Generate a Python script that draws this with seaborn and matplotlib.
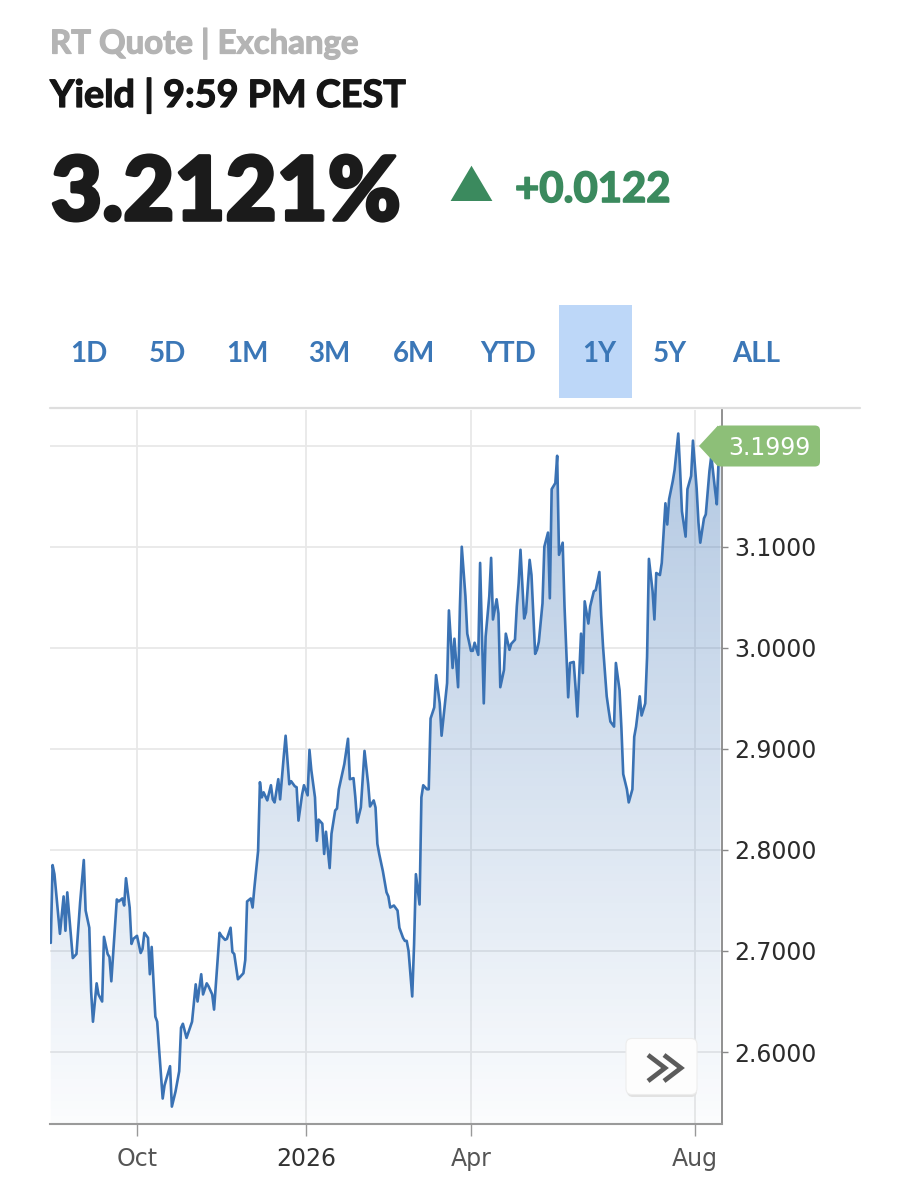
import numpy as np
import pandas as pd
import matplotlib
matplotlib.use("Agg")
import matplotlib.pyplot as plt
import matplotlib.dates as mdates
import matplotlib.patheffects as pe
import seaborn as sns
from matplotlib.colors import LinearSegmentedColormap
from matplotlib.patches import Rectangle, FancyBboxPatch, Polygon
from matplotlib.lines import Line2D

# ---------------- data ----------------
dates = [
    "2025-08-15", "2025-08-16", "2025-08-17", "2025-08-20", "2025-08-22", "2025-08-23", "2025-08-24",
    "2025-08-27", "2025-08-29", "2025-08-31", "2025-09-02", "2025-09-03", "2025-09-05", "2025-09-06",
    "2025-09-07", "2025-09-09", "2025-09-10", "2025-09-12", "2025-09-13", "2025-09-15", "2025-09-16",
    "2025-09-17", "2025-09-20", "2025-09-21", "2025-09-23", "2025-09-24", "2025-09-25", "2025-09-27",
    "2025-09-28", "2025-09-29", "2025-10-01", "2025-10-03", "2025-10-04", "2025-10-05", "2025-10-07",
    "2025-10-08", "2025-10-09", "2025-10-11", "2025-10-12", "2025-10-13", "2025-10-15", "2025-10-16",
    "2025-10-19", "2025-10-20", "2025-10-22", "2025-10-24", "2025-10-25", "2025-10-26", "2025-10-28",
    "2025-10-31", "2025-11-02", "2025-11-03", "2025-11-05", "2025-11-06", "2025-11-08", "2025-11-09",
    "2025-11-11", "2025-11-12", "2025-11-15", "2025-11-16", "2025-11-18", "2025-11-19", "2025-11-21",
    "2025-11-22", "2025-11-23", "2025-11-25", "2025-11-26", "2025-11-28", "2025-11-29", "2025-11-30",
    "2025-12-02", "2025-12-03", "2025-12-04", "2025-12-06", "2025-12-07",
    "2025-12-08", "2025-12-09", "2025-12-11", "2025-12-13", "2025-12-14", "2025-12-15", "2025-12-17",
    "2025-12-18", "2025-12-20", "2025-12-21", "2025-12-23", "2025-12-24", "2025-12-26", "2025-12-27",
    "2025-12-28", "2025-12-30", "2025-12-31", "2026-01-02", "2026-01-03", "2026-01-04", "2026-01-06",
    "2026-01-07", "2026-01-08", "2026-01-10", "2026-01-11", "2026-01-12", "2026-01-14", "2026-01-15",
    "2026-01-17", "2026-01-18", "2026-01-19", "2026-01-21", "2026-01-22", "2026-01-24", "2026-01-25",
    "2026-01-27", "2026-01-28", "2026-01-29", "2026-01-31", "2026-02-02", "2026-02-04", "2026-02-05",
    "2026-02-07", "2026-02-08", "2026-02-09", "2026-02-10", "2026-02-12", "2026-02-14", "2026-02-15",
    "2026-02-16", "2026-02-18", "2026-02-20", "2026-02-21", "2026-02-23", "2026-02-24", "2026-02-25",
    "2026-02-26", "2026-02-28", "2026-03-01", "2026-03-02", "2026-03-04", "2026-03-05", "2026-03-06",
    "2026-03-08", "2026-03-09",
    "2026-03-10", "2026-03-12", "2026-03-13", "2026-03-15", "2026-03-16", "2026-03-18", "2026-03-19",
    "2026-03-20", "2026-03-22", "2026-03-23", "2026-03-25", "2026-03-26", "2026-03-27", "2026-03-29",
    "2026-03-30", "2026-04-01", "2026-04-02", "2026-04-03", "2026-04-05", "2026-04-06", "2026-04-08",
    "2026-04-09", "2026-04-11", "2026-04-12", "2026-04-13", "2026-04-15", "2026-04-16", "2026-04-17",
    "2026-04-19", "2026-04-20", "2026-04-22", "2026-04-23", "2026-04-25", "2026-04-26", "2026-04-27",
    "2026-04-28", "2026-04-30", "2026-05-01", "2026-05-03", "2026-05-04", "2026-05-06", "2026-05-07",
    "2026-05-08", "2026-05-10", "2026-05-11", "2026-05-13", "2026-05-14", "2026-05-15", "2026-05-17",
    "2026-05-18", "2026-05-19", "2026-05-21", "2026-05-22", "2026-05-24", "2026-05-25", "2026-05-27",
    "2026-05-28", "2026-05-29", "2026-05-31", "2026-06-01", "2026-06-02", "2026-06-04", "2026-06-05",
    "2026-06-07", "2026-06-08", "2026-06-10", "2026-06-11", "2026-06-12", "2026-06-14", "2026-06-15",
    "2026-06-16", "2026-06-18", "2026-06-19", "2026-06-21", "2026-06-22", "2026-06-23", "2026-06-25",
    "2026-06-26", "2026-06-28", "2026-06-29", "2026-06-30", "2026-07-02", "2026-07-03", "2026-07-05",
    "2026-07-06", "2026-07-07", "2026-07-09", "2026-07-10", "2026-07-11", "2026-07-13", "2026-07-14",
    "2026-07-16", "2026-07-17", "2026-07-18", "2026-07-20", "2026-07-21", "2026-07-23", "2026-07-24",
    "2026-07-25", "2026-07-27", "2026-07-28", "2026-07-30", "2026-07-31", "2026-08-02", "2026-08-03",
    "2026-08-04", "2026-08-06", "2026-08-07", "2026-08-09", "2026-08-10", "2026-08-12", "2026-08-13",
    "2026-08-14", "2026-08-15",
]
yields = [
    2.708, 2.785, 2.776, 2.717, 2.754, 2.720, 2.758,
    2.693, 2.697, 2.748, 2.790, 2.740, 2.723, 2.660,
    2.630, 2.668, 2.657, 2.650, 2.714, 2.697, 2.694,
    2.670, 2.751, 2.749, 2.752, 2.745, 2.772, 2.743,
    2.707, 2.712, 2.715, 2.698, 2.702, 2.718, 2.713,
    2.677, 2.704, 2.635, 2.630, 2.604, 2.554, 2.567,
    2.586, 2.546, 2.561, 2.581, 2.624, 2.628, 2.614,
    2.630, 2.667, 2.650, 2.677, 2.657, 2.668, 2.665,
    2.657, 2.642, 2.718, 2.715, 2.711, 2.712, 2.723,
    2.699, 2.697, 2.672, 2.674, 2.678, 2.691, 2.749,
    2.752, 2.743, 2.763, 2.799, 2.867,
    2.852, 2.857, 2.849, 2.864, 2.850, 2.847, 2.870,
    2.850, 2.893, 2.913, 2.865, 2.868, 2.863, 2.862,
    2.829, 2.855, 2.864, 2.854, 2.899, 2.879, 2.852,
    2.809, 2.830, 2.826, 2.796, 2.818, 2.782, 2.816,
    2.839, 2.841, 2.860, 2.877, 2.885, 2.910, 2.870,
    2.871, 2.852, 2.827, 2.842, 2.898, 2.865, 2.843,
    2.849, 2.842, 2.806, 2.796, 2.779, 2.758, 2.754,
    2.743, 2.745, 2.740, 2.723, 2.713, 2.710, 2.710,
    2.700, 2.655, 2.706, 2.776, 2.746, 2.852, 2.864,
    2.860, 2.860,
    2.930, 2.941, 2.973, 2.945, 2.913, 2.948, 2.965,
    3.037, 2.980, 3.009, 2.961, 3.041, 3.100, 3.051,
    3.014, 2.997, 2.997, 3.005, 2.993, 3.084, 2.945,
    3.011, 3.051, 3.089, 3.028, 3.048, 3.034, 2.961,
    2.978, 3.014, 2.998, 3.004, 3.008, 3.041, 3.064,
    3.097, 3.029, 3.035, 3.087, 3.072, 2.994, 2.998,
    3.006, 3.044, 3.100, 3.114, 3.049, 3.157, 3.163,
    3.190, 3.092, 3.104, 3.041, 2.951, 2.985, 2.986,
    2.961, 2.932, 3.014, 2.975, 3.046, 3.024, 3.041,
    3.056, 3.057, 3.075, 3.032, 3.001, 2.952, 2.939,
    2.927, 2.922, 2.985, 2.958, 2.921, 2.875, 2.860,
    2.847, 2.860, 2.912, 2.922, 2.952, 2.933, 2.945,
    2.991, 3.088, 3.056, 3.028, 3.074, 3.072, 3.084,
    3.143, 3.122, 3.147, 3.165, 3.176, 3.212, 3.176,
    3.135, 3.110, 3.157, 3.170, 3.205, 3.158, 3.124,
    3.104, 3.128, 3.132, 3.175, 3.190, 3.157, 3.142,
    3.186, 3.1999,
]
xtick_dates = ["2025-10-01", "2026-01-01", "2026-04-01", "2026-08-01"]
xtick_labels = ["Oct", "2026", "Apr", "Aug"]
ytick_values = [2.6, 2.7, 2.8, 2.9, 3.0, 3.1, 3.2]
last_value_label = "3.1999"
quote_text = "3.2121%"
change_text = "+0.0122"
source_text = "RT Quote | Exchange"
time_text = "Yield | 9:59 PM CEST"
range_buttons = ["1D", "5D", "1M", "3M", "6M", "YTD", "1Y", "5Y", "ALL"]
selected_range = "1Y"

# ---------------- layout / style ----------------
W, H = 912, 1200
sns.set_theme(style="white")
plt.rcParams["font.family"] = ["DejaVu Sans"]

fig = plt.figure(figsize=(W / 100, H / 100), dpi=100)
fig.patch.set_facecolor("white")


def fx(x):
    return x / W


def fy(y):
    return 1 - y / H


ax_left, ax_right, ax_top, ax_bottom = 50, 722, 410, 1124
ax = fig.add_axes([fx(ax_left), fy(ax_bottom), (ax_right - ax_left) / W, (ax_bottom - ax_top) / H])
ax.set_facecolor("white")

df = pd.DataFrame({"date": pd.to_datetime(dates), "yield": yields})

line_color = "#3a72b4"
sns.lineplot(data=df, x="date", y="yield", ax=ax, color=line_color, linewidth=1.9, zorder=3)

xlim = (pd.Timestamp("2025-08-14 14:00"), pd.Timestamp("2026-08-15 20:00"))
ylim = (2.5288, 3.2353)
x0n, x1n = mdates.date2num(xlim[0]), mdates.date2num(xlim[1])

# gradient area fill under the line
poly = ax.fill_between(df["date"], df["yield"], ylim[0], facecolor="none", edgecolor="none")
grad = np.linspace(0, 1, 256).reshape(-1, 1)
cmap = LinearSegmentedColormap.from_list(
    "fillgrad", [(0.227, 0.447, 0.706, 0.02), (0.227, 0.447, 0.706, 0.40)])
im = ax.imshow(grad, extent=[x0n, x1n, ylim[0], ylim[1]], origin="lower",
               aspect="auto", cmap=cmap, zorder=1, interpolation="bilinear")
im.set_clip_path(poly.get_paths()[0], transform=ax.transData)

ax.set_xlim(x0n, x1n)
ax.set_ylim(*ylim)
ax.set_xlabel("")
ax.set_ylabel("")

# grid
ax.set_axisbelow(True)
ax.grid(True, color="#e8e8e8", linewidth=1.3)

# y axis on the right
ax.yaxis.tick_right()
ax.set_yticks(ytick_values)
ax.set_yticklabels([f"{v:.4f}" if v < 3.15 else "" for v in ytick_values])
ax.tick_params(axis="y", which="both", right=True, left=False, direction="out",
               length=4, width=1.0, color="#888888", pad=5, labelsize=17,
               labelcolor="#2b2b2b")

# x axis
ax.set_xticks(mdates.date2num(pd.to_datetime(xtick_dates)))
ax.set_xticklabels(xtick_labels)
ax.tick_params(axis="x", which="both", bottom=True, direction="out", length=8.5,
               width=1.0, color="#999999", pad=8, labelsize=17)
for lbl in ax.get_xticklabels():
    lbl.set_color("#333333" if lbl.get_text() == "2026" else "#555555")

for side in ["left", "top"]:
    ax.spines[side].set_visible(False)
ax.spines["right"].set_color("#888888")
ax.spines["right"].set_linewidth(1.3)
ax.spines["bottom"].set_color("#9a9a9a")
ax.spines["bottom"].set_linewidth(1.5)

# top frame line
fig.add_artist(Line2D([fx(50), fx(860)], [fy(408.5), fy(408.5)], color="#dedede",
                      lw=1.6, transform=fig.transFigure))

# ---------------- header ----------------
renderer = fig.canvas.get_renderer()
head_family = ["Lato", "DejaVu Sans"]


def fit_text(x0, x1, ybase, s, color, weight, guess=20, stroke=0.0):
    t = fig.text(fx(x0), fy(ybase), s, ha="left", va="baseline", fontsize=guess,
                 color=color, fontweight=weight, family=head_family)
    w = t.get_window_extent(renderer=renderer).width
    t.set_fontsize(guess * (x1 - x0) / w)
    if stroke > 0:
        t.set_path_effects([pe.withStroke(linewidth=stroke, foreground=color)])
    return t


fit_text(50, 358, 53.5, source_text, "#b4b4b4", "bold", stroke=0.9)
fit_text(50, 406, 107, time_text, "#151515", "bold", stroke=0.9)
fit_text(51, 401, 220, quote_text, "#1b1b1b", "black", guess=50, stroke=2.6)
fit_text(515, 670, 202, change_text, "#3b8a5e", "bold", guess=30, stroke=1.2)

green = "#3b8a5e"
fig.add_artist(Polygon([(fx(450.6), fy(201)), (fx(492.4), fy(201)), (fx(471.5), fy(165.7))],
                       closed=True, facecolor=green, edgecolor="none", transform=fig.transFigure))

# range buttons
btn_centers = [88.7, 167, 247, 329.3, 414.2, 507.8, 599, 670, 756.5]
fig.add_artist(Rectangle((fx(559), fy(398)), (632 - 559) / W, (398 - 305) / H,
                         facecolor="#bdd7f8", edgecolor="none", transform=fig.transFigure, zorder=1))
for name, cx in zip(range_buttons, btn_centers):
    fig.text(fx(cx), fy(361.7), name, ha="center", va="baseline", fontsize=20,
             color="#3b77b7", fontweight="bold", family=head_family, zorder=3)

# ---------------- last value label ----------------
label_green = "#8dbf78"
fig.add_artist(Polygon([(fx(699), fy(446)), (fx(718), fy(425.5)), (fx(718), fy(466.5))],
                       closed=True, facecolor=label_green, edgecolor="none",
                       transform=fig.transFigure, zorder=5))
fig.add_artist(FancyBboxPatch((716, H - 466.5), 104, 41, boxstyle="round,pad=0,rounding_size=5",
                              facecolor=label_green, edgecolor="none",
                              transform=matplotlib.transforms.IdentityTransform(), zorder=5))
fig.text(fx(769), fy(455), last_value_label, ha="center", va="baseline", fontsize=17,
         color="white", zorder=6)

# ---------------- scroll button ----------------
fig.add_artist(FancyBboxPatch((627, H - 1097), 70, 56, boxstyle="round,pad=0,rounding_size=6",
                              facecolor="#e2e2e2", edgecolor="none",
                              transform=matplotlib.transforms.IdentityTransform(), zorder=5))
fig.add_artist(FancyBboxPatch((626, H - 1094.5), 71, 56, boxstyle="round,pad=0,rounding_size=6",
                              facecolor="#fdfdfd", edgecolor="#ededed", linewidth=0.8,
                              transform=matplotlib.transforms.IdentityTransform(), zorder=6))
for dx in (0, 16):
    fig.add_artist(Line2D([fx(648 + dx), fx(665 + dx), fx(648 + dx)],
                          [fy(1055), fy(1068), fy(1081)], color="#5b5b5b", lw=3.4,
                          solid_joinstyle="miter", solid_capstyle="butt",
                          transform=fig.transFigure, zorder=7))

fig.savefig("out.png", dpi=100, facecolor="white")
